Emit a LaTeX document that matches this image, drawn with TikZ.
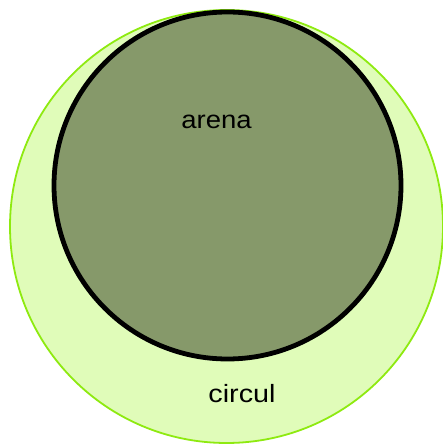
\documentclass[tikz,border=0pt]{standalone}
\usepackage{fontspec}
\setmainfont{Liberation Sans}
\definecolor{outerfill}{HTML}{E0FCB9}
\definecolor{outerline}{HTML}{8EEA10}
\definecolor{innerfill}{HTML}{86996A}
\tikzset{
  lbl/.style={anchor=base, inner sep=0pt, font=\fontsize{25}{30}\selectfont, text=black},
}
\begin{document}
\begin{tikzpicture}[x=1pt,y=1pt]
\useasboundingbox (0,0) rectangle (443,445);
\fill[white] (0,0) rectangle (443,445);
\node[circle, draw=outerline, line width=1.8pt, fill=outerfill, minimum size=433pt, inner sep=0pt] (circul) at (226.5,218.5) {};
\node[circle, draw=black, line width=4.8pt, fill=innerfill, minimum size=347pt, inner sep=0pt] (arena) at (227.5,259.5) {};
\node[lbl] (arenalbl) at (216.5,316) {\scalebox{1.1}[1]{arena}};
\node[lbl] (circullbl) at (242,42) {\scalebox{1.15}[1]{circul}};
\end{tikzpicture}
\end{document}
